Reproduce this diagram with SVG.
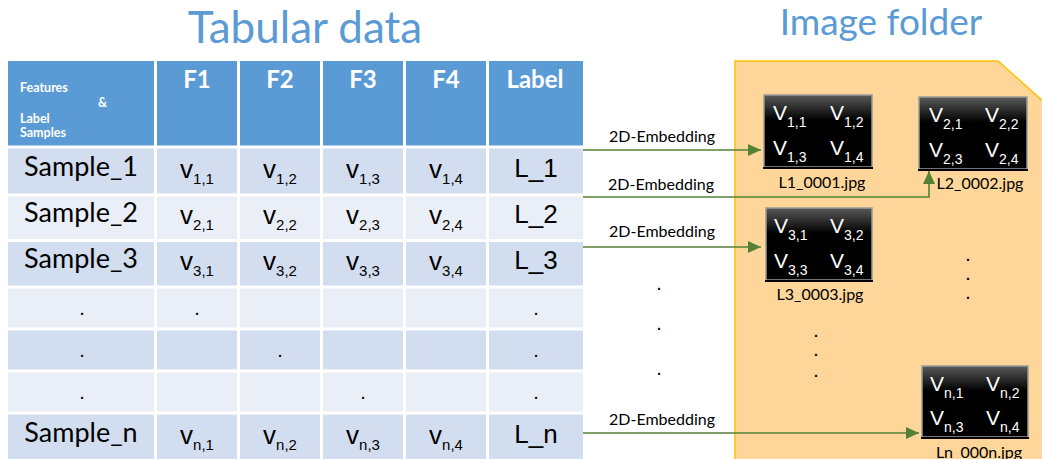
<svg xmlns="http://www.w3.org/2000/svg" width="1042" height="459" viewBox="0 0 1042 459">
<defs>
<linearGradient id="thumbGrad" x1="0" y1="0" x2="0" y2="1">
<stop offset="0" stop-color="#5a5a5a"/>
<stop offset="0.35" stop-color="#000"/>
<stop offset="1" stop-color="#000"/>
</linearGradient>
<marker id="arr" markerUnits="userSpaceOnUse" markerWidth="14" markerHeight="12" refX="13" refY="6" orient="auto">
<path d="M0,0 L13,6 L0,12 z" fill="#548235"/>
</marker>
<style>
.title{font-family:Lato,"Liberation Sans",sans-serif;fill:#5B9BD5}
.hdr{font-family:Lato,"Liberation Sans",sans-serif;font-weight:bold;fill:#fff;font-size:24px;text-anchor:middle}
.hsm{font-family:Lato,"Liberation Sans",sans-serif;font-weight:bold;fill:#fff;font-size:12.5px}
.samp{font-family:Lato,"Liberation Sans",sans-serif;font-size:27px;fill:#000;text-anchor:middle}
.val{font-family:"Liberation Sans",Arial,sans-serif;font-size:26px;fill:#000;text-anchor:middle}
.sub{font-size:15px}
.dot{font-family:"Liberation Sans",Arial,sans-serif;font-size:20px;fill:#000;text-anchor:middle}
.sdot{font-family:"Liberation Sans",Arial,sans-serif;font-size:14px;font-weight:bold;fill:#000;text-anchor:middle}
.dk{fill:#D2DEEF}
.lt{fill:#EAEFF7}
.grid{stroke:#fff;stroke-width:3}
.tv{font-family:"Liberation Sans",Arial,sans-serif;font-size:21px;fill:#fff}
.tsub{font-size:14px}
.fname{font-family:Lato,"Liberation Sans",sans-serif;font-size:16px;fill:#000;text-anchor:middle}
.emb{font-family:Lato,"Liberation Sans",sans-serif;font-size:16px;fill:#000;text-anchor:middle}
.conn{stroke:#548235;stroke-width:1.6;fill:none;marker-end:url(#arr)}
.thumb{fill:url(#thumbGrad);stroke:#9a9a9a;stroke-width:1.5}
</style>
</defs>
<rect width="1042" height="459" fill="#fff"/>

<g id="titles">
<text class="title" x="305" y="43" font-size="44" text-anchor="middle">Tabular data</text>
<text class="title" x="881" y="35" font-size="37" text-anchor="middle">Image folder</text>
</g>

<g id="folder">
<polygon points="735,61 998,61 1044,102 1044,461 735,461" fill="#FED69A" stroke="#FFC000" stroke-width="1.5"/>
</g>

<g id="table">
<g id="table-header">
<rect x="8" y="61" width="575" height="86" fill="#5B9BD5"/>
<text class="hsm" x="20" y="92">Features</text>
<text class="hsm" x="98" y="107">&amp;</text>
<text class="hsm" x="20" y="123">Label</text>
<text class="hsm" x="20" y="137">Samples</text>
<text class="hdr" x="197" y="88">F1</text>
<text class="hdr" x="280" y="88">F2</text>
<text class="hdr" x="363" y="88">F3</text>
<text class="hdr" x="446" y="88">F4</text>
<text class="hdr" x="535" y="88">Label</text>
</g>
<g id="row-1">
<rect class="dk" x="8" y="147" width="575" height="48"/>
<text class="samp" x="81" y="176">Sample_1</text>
<text class="val" x="197" y="178">v<tspan class="sub" dy="6">1,1</tspan></text>
<text class="val" x="280" y="178">v<tspan class="sub" dy="6">1,2</tspan></text>
<text class="val" x="363" y="178">v<tspan class="sub" dy="6">1,3</tspan></text>
<text class="val" x="446" y="178">v<tspan class="sub" dy="6">1,4</tspan></text>
<text class="val" x="536" y="177">L_1</text>
</g>
<g id="row-2">
<rect class="lt" x="8" y="195" width="575" height="46"/>
<text class="samp" x="81" y="222">Sample_2</text>
<text class="val" x="197" y="224">v<tspan class="sub" dy="6">2,1</tspan></text>
<text class="val" x="280" y="224">v<tspan class="sub" dy="6">2,2</tspan></text>
<text class="val" x="363" y="224">v<tspan class="sub" dy="6">2,3</tspan></text>
<text class="val" x="446" y="224">v<tspan class="sub" dy="6">2,4</tspan></text>
<text class="val" x="536" y="223">L_2</text>
</g>
<g id="row-3">
<rect class="dk" x="8" y="241" width="575" height="46"/>
<text class="samp" x="81" y="268">Sample_3</text>
<text class="val" x="197" y="270">v<tspan class="sub" dy="6">3,1</tspan></text>
<text class="val" x="280" y="270">v<tspan class="sub" dy="6">3,2</tspan></text>
<text class="val" x="363" y="270">v<tspan class="sub" dy="6">3,3</tspan></text>
<text class="val" x="446" y="270">v<tspan class="sub" dy="6">3,4</tspan></text>
<text class="val" x="536" y="269">L_3</text>
</g>
<g id="row-4">
<rect class="lt" x="8" y="287" width="575" height="42"/>
<text class="dot" x="82" y="315">.</text>
<text class="dot" x="197" y="315">.</text>
<text class="dot" x="536" y="315">.</text>
</g>
<g id="row-5">
<rect class="dk" x="8" y="329" width="575" height="42"/>
<text class="dot" x="82" y="357">.</text>
<text class="dot" x="280" y="357">.</text>
<text class="dot" x="536" y="357">.</text>
</g>
<g id="row-6">
<rect class="lt" x="8" y="371" width="575" height="42"/>
<text class="dot" x="82" y="399">.</text>
<text class="dot" x="363" y="399">.</text>
<text class="dot" x="536" y="399">.</text>
</g>
<g id="row-n">
<rect class="dk" x="8" y="413" width="575" height="46"/>
<text class="samp" x="81" y="442">Sample_n</text>
<text class="val" x="197" y="444">v<tspan class="sub" dy="6">n,1</tspan></text>
<text class="val" x="280" y="444">v<tspan class="sub" dy="6">n,2</tspan></text>
<text class="val" x="363" y="444">v<tspan class="sub" dy="6">n,3</tspan></text>
<text class="val" x="446" y="444">v<tspan class="sub" dy="6">n,4</tspan></text>
<text class="val" x="536" y="443">L_n</text>
</g>
<g id="table-grid" class="grid">
<line x1="155.5" y1="61" x2="155.5" y2="459"/>
<line x1="238.5" y1="61" x2="238.5" y2="459"/>
<line x1="321.5" y1="61" x2="321.5" y2="459"/>
<line x1="404.5" y1="61" x2="404.5" y2="459"/>
<line x1="487.5" y1="61" x2="487.5" y2="459"/>
<line x1="8" y1="147" x2="583" y2="147"/>
<line x1="8" y1="195" x2="583" y2="195"/>
<line x1="8" y1="240.5" x2="583" y2="240.5"/>
<line x1="8" y1="287" x2="583" y2="287"/>
<line x1="8" y1="329" x2="583" y2="329"/>
<line x1="8" y1="371" x2="583" y2="371"/>
<line x1="8" y1="413" x2="583" y2="413"/>
</g>
</g>

<g id="img-1">
<rect class="thumb" x="764" y="95" width="108" height="72"/>
<line x1="763" y1="168" x2="873" y2="168" stroke="#000" stroke-width="2"/>
<text class="tv" x="773" y="120">V<tspan class="tsub" dy="7">1,1</tspan></text>
<text class="tv" x="830" y="120">V<tspan class="tsub" dy="7">1,2</tspan></text>
<text class="tv" x="773" y="155">V<tspan class="tsub" dy="7">1,3</tspan></text>
<text class="tv" x="830" y="155">V<tspan class="tsub" dy="7">1,4</tspan></text>
<text class="fname" x="822" y="188">L1_0001.jpg</text>
</g>
<g id="img-2">
<rect class="thumb" x="919" y="97" width="108" height="72"/>
<line x1="918" y1="170" x2="1028" y2="170" stroke="#000" stroke-width="2"/>
<text class="tv" x="929" y="122">V<tspan class="tsub" dy="7">2,1</tspan></text>
<text class="tv" x="985" y="122">V<tspan class="tsub" dy="7">2,2</tspan></text>
<text class="tv" x="929" y="157">V<tspan class="tsub" dy="7">2,3</tspan></text>
<text class="tv" x="985" y="157">V<tspan class="tsub" dy="7">2,4</tspan></text>
<text class="fname" x="980" y="189">L2_0002.jpg</text>
</g>
<g id="img-3">
<rect class="thumb" x="766" y="208" width="106" height="72"/>
<line x1="765" y1="281" x2="873" y2="281" stroke="#000" stroke-width="2"/>
<text class="tv" x="774" y="233">V<tspan class="tsub" dy="7">3,1</tspan></text>
<text class="tv" x="830" y="233">V<tspan class="tsub" dy="7">3,2</tspan></text>
<text class="tv" x="774" y="268">V<tspan class="tsub" dy="7">3,3</tspan></text>
<text class="tv" x="830" y="268">V<tspan class="tsub" dy="7">3,4</tspan></text>
<text class="fname" x="820" y="300">L3_0003.jpg</text>
</g>
<g id="img-n">
<rect class="thumb" x="922" y="366" width="106" height="71"/>
<line x1="921" y1="438" x2="1029" y2="438" stroke="#000" stroke-width="2"/>
<text class="tv" x="930" y="391">V<tspan class="tsub" dy="7">n,1</tspan></text>
<text class="tv" x="986" y="391">V<tspan class="tsub" dy="7">n,2</tspan></text>
<text class="tv" x="930" y="425">V<tspan class="tsub" dy="7">n,3</tspan></text>
<text class="tv" x="986" y="425">V<tspan class="tsub" dy="7">n,4</tspan></text>
<text class="fname" x="979" y="458">Ln_000n.jpg</text>
</g>

<g id="ellipses">
<text class="dot" x="659" y="290">.</text>
<text class="dot" x="659" y="330">.</text>
<text class="dot" x="659" y="375">.</text>
<text class="sdot" x="816" y="337">.</text>
<text class="sdot" x="816" y="356">.</text>
<text class="sdot" x="816" y="377">.</text>
<text class="sdot" x="968" y="261">.</text>
<text class="sdot" x="968" y="280">.</text>
<text class="sdot" x="968" y="299">.</text>
</g>

<g id="connectors">
<path class="conn" d="M583,150 H761"/>
<path class="conn" d="M583,197 H929 V171"/>
<path class="conn" d="M583,247 H761"/>
<path class="conn" d="M583,433 H919"/>
<text class="emb" x="662" y="142">2D-Embedding</text>
<text class="emb" x="661" y="190">2D-Embedding</text>
<text class="emb" x="662" y="237">2D-Embedding</text>
<text class="emb" x="662" y="425">2D-Embedding</text>
</g>
</svg>
